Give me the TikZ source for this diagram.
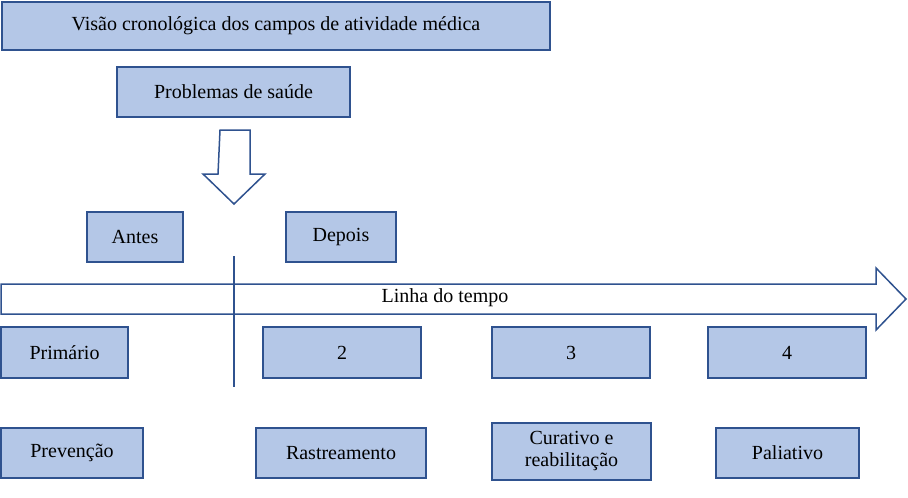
\documentclass[tikz,border=0pt]{standalone}
\usepackage{fontspec}
\setmainfont{Liberation Serif}
\definecolor{bfill}{HTML}{B4C7E7}
\definecolor{bdraw}{HTML}{2F528F}
\begin{document}
\begin{tikzpicture}[x=1pt,y=-1pt,
  box/.style={draw=bdraw,line width=1.5pt,fill=bfill,font=\fontsize{20}{22}\selectfont,align=center,inner sep=0pt},
  arr/.style={draw=bdraw,line width=1.5pt,fill=white}]
\useasboundingbox (0,0) rectangle (908,498);
\newcommand{\bx}[6]{\node[box,minimum width=#4-#3,minimum height=#6-#5] (#1) at ({(#3+#4)/2},{(#5+#6)/2}) {#2};}
\bx{t}{Visão cronológica dos campos de atividade médica}{2}{550}{2}{50}
\bx{p}{Problemas de saúde}{117}{350}{67}{117}
\bx{a}{Antes}{87}{183}{212}{262}
\bx{d}{Depois}{286}{396}{212}{262}
\draw[arr] (220,130) -- (250,130) -- (250,174) -- (265,174) -- (234,204) -- (203,174) -- (218,174) -- cycle;
\draw[arr] (1,284) -- (876,284) -- (876,268) -- (906,299) -- (876,330) -- (876,314) -- (1,314) -- cycle;
\node[font=\fontsize{20}{22}\selectfont] (lt) at (445,298) {Linha do tempo};
\coordinate (v1) at (234,256); \coordinate (v2) at (234,387);
\draw[bdraw,line width=1.8pt] (v1) -- (v2);
\bx{b1}{Primário}{1}{128}{327}{378}
\bx{b2}{2}{263}{421}{327}{378}
\bx{b3}{3}{492}{650}{327}{378}
\bx{b4}{4}{708}{866}{327}{378}
\bx{c1}{Prevenção}{1}{143}{428}{478}
\bx{c2}{Rastreamento}{256}{426}{428}{478}
\bx{c3}{Curativo e\\reabilitação}{492}{651}{423}{480}
\bx{c4}{Paliativo}{716}{859}{428}{478}
\end{tikzpicture}
\end{document}
